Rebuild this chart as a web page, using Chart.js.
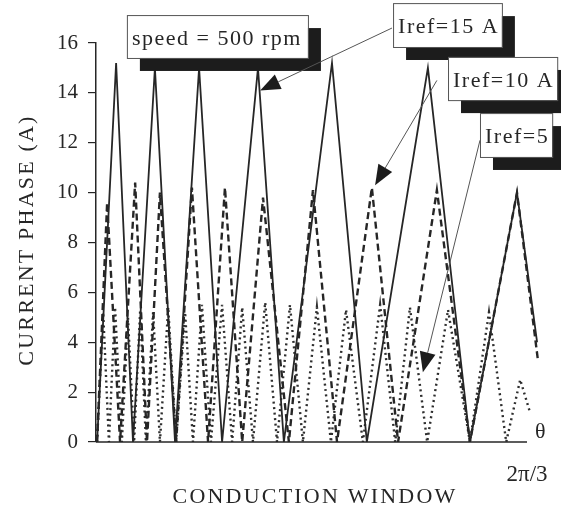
<!DOCTYPE html>
<html>
<head>
<meta charset="utf-8">
<script src="https://cdn.jsdelivr.net/npm/chart.js@4.4.1/dist/chart.umd.min.js"></script>
<style>
  html, body { margin: 0; padding: 0; background: #fff; }
  #wrap { width: 561px; height: 513px; }
</style>
</head>
<body>
<div id="wrap"><canvas id="chart" width="561" height="513"></canvas></div>
<script>
// rotor angle in degrees (2π/3 = 120) and phase current in A, one pair per reference
const thetaI15 = [0.3, 5.6, 10.3, 16.4, 22.0, 28.7, 35.1, 45.1, 52.3, 65.7, 75.4, 92.4, 104.1, 117.2, 122.8]
const ampsI15  = [0, 15.2, 0, 15.0, 0, 15.0, 0, 15.0, 0, 15.2, 0, 15.0, 0, 10.0, 4.0]

const thetaI10 = [0.3, 3.1, 6.7, 10.9, 14.2, 17.8, 22.3, 26.7, 31.2, 35.9, 40.7, 46.5, 53.7, 60.4, 67.1, 76.8, 84.1, 94.9, 104.1, 117.2, 123.1]
const ampsI10  = [0, 9.6, 0, 10.4, 0, 10.0, 0, 10.2, 0, 10.2, 0, 9.8, 0, 10.1, 0, 10.2, 0, 10.1, 0, 10.0, 3.2]

const thetaI5 = [0.3, 2.0, 3.6, 5.3, 7.2, 8.9, 10.6, 12.3, 13.9, 15.9, 17.8, 20.1, 22.3, 24.8, 27.0, 29.5, 32.0, 35.1, 37.9, 40.7, 43.7, 47.1, 50.4, 54.0, 57.6, 61.5, 65.4, 69.6, 74.3, 79.1, 83.3, 87.4, 92.2, 98.0, 104.1, 109.4, 114.2, 118.1, 120.8]
const ampsI5  = [0, 5.2, 0, 5.4, 0, 5.0, 0, 5.3, 0, 5.2, 0, 5.4, 0, 5.2, 0, 5.5, 0, 5.5, 0, 5.4, 0, 5.6, 0, 5.5, 0, 5.4, 0, 5.3, 0, 5.5, 0, 5.4, 0, 5.3, 0, 5.2, 0, 2.5, 1.2]

const yTicks = [0, 2, 4, 6, 8, 10, 12, 14, 16]
const xTicks = [120]
const xTickLabels = ['2π/3']

const SERIF = '"Liberation Serif", "Times New Roman", serif'
const INK = '#262626'

function pts(xs, ys) {
  return xs.map((x, i) => ({ x: x, y: ys[i] }))
}

// legend boxes (corners in axis units) and the arrows pointing at the traces
const notes = [
  { text: 'speed = 500 rpm', x1: 8.6, x2: 59.0, y1: 17.12, y2: 15.40 },
  { text: 'Iref=15 A', x1: 82.7, x2: 113.0, y1: 17.60, y2: 15.84 },
  { text: 'Iref=10 A', x1: 98.0, x2: 128.4, y1: 15.44, y2: 13.71 },
  { text: 'Iref=5', x1: 106.9, x2: 127.0, y1: 13.19, y2: 11.43 }
]
const arrows = [
  { x0: 82.4, y0: 16.6, x1: 45.7, y1: 14.1 },
  { x0: 94.9, y0: 14.5, x1: 77.7, y1: 10.3 },
  { x0: 106.9, y0: 12.1, x1: 91.0, y1: 2.8 }
]

const decor = {
  id: 'decor',
  afterDatasetsDraw(chart) {
    const ctx = chart.ctx
    const xs = chart.scales.x
    const ys = chart.scales.y
    const px = v => xs.getPixelForValue(v)
    const py = v => ys.getPixelForValue(v)
    ctx.save()

    // horizontal axis stops at 2π/3
    ctx.strokeStyle = INK
    ctx.lineWidth = 1.5
    ctx.beginPath()
    ctx.moveTo(px(0), py(0))
    ctx.lineTo(px(120), py(0))
    ctx.stroke()

    ctx.font = '22px ' + SERIF
    ctx.fillStyle = INK
    ctx.letterSpacing = '0px'
    ctx.textAlign = 'left'
    ctx.textBaseline = 'alphabetic'
    ctx.fillText('θ', px(120) + 8, py(0) - 4)

    // boxes with a heavy drop shadow
    ctx.letterSpacing = '1.5px'
    notes.forEach(n => {
      const l = px(n.x1), r = px(n.x2), t = py(n.y1), b = py(n.y2)
      ctx.fillStyle = '#1c1c1c'
      ctx.fillRect(l + 13, t + 13, r - l, b - t)
      ctx.fillStyle = '#fff'
      ctx.fillRect(l, t, r - l, b - t)
      ctx.strokeStyle = '#555'
      ctx.lineWidth = 1
      ctx.strokeRect(l + 0.5, t + 0.5, r - l, b - t)
      ctx.fillStyle = INK
      ctx.fillText(n.text, l + 5, t + 30)
    })

    arrows.forEach(a => {
      const x0 = px(a.x0), y0 = py(a.y0), x1 = px(a.x1), y1 = py(a.y1)
      const ang = Math.atan2(y1 - y0, x1 - x0)
      const len = 20, half = 8
      const bx = x1 - len * Math.cos(ang), by = y1 - len * Math.sin(ang)
      ctx.strokeStyle = '#555'
      ctx.lineWidth = 1
      ctx.beginPath()
      ctx.moveTo(x0, y0)
      ctx.lineTo(bx, by)
      ctx.stroke()
      ctx.fillStyle = '#1c1c1c'
      ctx.beginPath()
      ctx.moveTo(x1, y1)
      ctx.lineTo(bx + half * Math.sin(ang), by - half * Math.cos(ang))
      ctx.lineTo(bx - half * Math.sin(ang), by + half * Math.cos(ang))
      ctx.closePath()
      ctx.fill()
    })

    // axis titles, spaced out like the typeset originals
    ctx.fillStyle = INK
    ctx.font = '22px ' + SERIF
    ctx.letterSpacing = '2.2px'
    ctx.textAlign = 'center'
    ctx.fillText('CONDUCTION WINDOW', 315, 503)
    ctx.translate(33, 240)
    ctx.rotate(-Math.PI / 2)
    ctx.fillText('CURRENT PHASE (A)', 0, 0)

    ctx.restore()
  }
}

new Chart(document.getElementById('chart'), {
  type: 'line',
  data: {
    datasets: [
      {
        label: 'Iref=15 A',
        data: pts(thetaI15, ampsI15),
        borderColor: INK,
        borderWidth: 1.8
      },
      {
        label: 'Iref=10 A',
        data: pts(thetaI10, ampsI10),
        borderColor: INK,
        borderWidth: 2.4,
        borderDash: [7, 4]
      },
      {
        label: 'Iref=5',
        data: pts(thetaI5, ampsI5),
        borderColor: '#2e2e2e',
        borderWidth: 2.4,
        borderDash: [2, 3.5]
      }
    ]
  },
  options: {
    responsive: false,
    animation: false,
    elements: { point: { radius: 0 }, line: { tension: 0, fill: false } },
    layout: { padding: { top: 43, right: 16, left: 0, bottom: 0 } },
    plugins: { legend: { display: false }, tooltip: { enabled: false } },
    scales: {
      x: {
        type: 'linear',
        min: 0,
        max: 125,
        border: { display: false },
        grid: { display: false },
        afterBuildTicks: s => { s.ticks = xTicks.map(v => ({ value: v })) },
        afterFit: s => { s.height = 71; s.paddingRight = 0; s.paddingLeft = 0 },
        ticks: {
          callback: (v, i) => xTickLabels[i],
          font: { family: SERIF, size: 23 },
          color: INK,
          padding: 11,
          maxRotation: 0,
          autoSkip: false
        }
      },
      y: {
        min: 0,
        max: 16,
        afterBuildTicks: s => { s.ticks = yTicks.map(v => ({ value: v })) },
        afterFit: s => { s.width = 96 },
        border: { color: INK, width: 1.5 },
        grid: { drawOnChartArea: false, tickLength: 8, color: INK, lineWidth: 1.2 },
        ticks: { font: { family: SERIF, size: 21 }, color: INK, padding: 10 }
      }
    }
  },
  plugins: [decor]
})
</script>
</body>
</html>
